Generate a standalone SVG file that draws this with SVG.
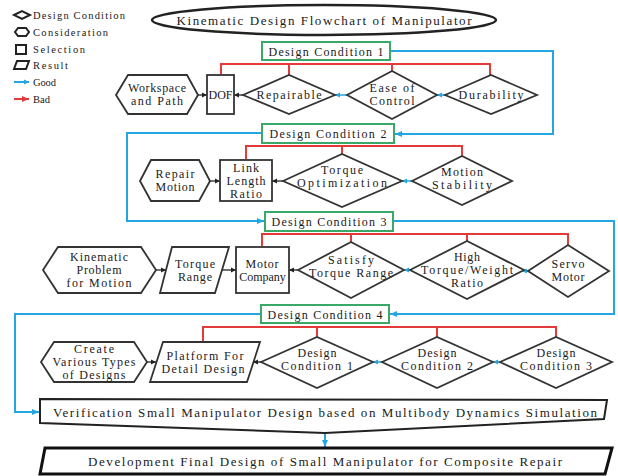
<svg xmlns="http://www.w3.org/2000/svg" width="618" height="476" viewBox="0 0 618 476">
<style>
.sh{fill:#fff;stroke:#333;stroke-width:1.8;stroke-linejoin:miter}
.dc{fill:#fff;stroke:#3aa866;stroke-width:2}
text{font-family:"Liberation Serif","DejaVu Serif",serif;fill:#1a1a1a}
.t{font-size:12px;text-anchor:middle}
.lg{font-size:10.5px}
.big{font-size:13px;text-anchor:middle}
.blue{fill:none;stroke:#24a6e0;stroke-width:2}
.red{fill:none;stroke:#e53a3a;stroke-width:2}
.blk{fill:none;stroke:#222;stroke-width:1.3}
.cy{fill:none;stroke:#24a6e0;stroke-width:1.5}
</style>
<defs>
<marker id="ab" markerUnits="userSpaceOnUse" markerWidth="8" markerHeight="8" refX="7" refY="4" orient="auto"><path d="M0,1 L7,4 L0,7 Z" fill="#24a6e0"/></marker>
<marker id="ar" markerUnits="userSpaceOnUse" markerWidth="8" markerHeight="8" refX="7" refY="4" orient="auto"><path d="M0,1 L7,4 L0,7 Z" fill="#e53a3a"/></marker>
<marker id="ak" markerUnits="userSpaceOnUse" markerWidth="6" markerHeight="6" refX="5" refY="3" orient="auto"><path d="M0,0.5 L5,3 L0,5.5 Z" fill="#222"/></marker>
<marker id="ac" markerUnits="userSpaceOnUse" markerWidth="6" markerHeight="6" refX="5" refY="3" orient="auto"><path d="M0,0.5 L5,3 L0,5.5 Z" fill="#24a6e0"/></marker>
</defs>

<g id="legend">
<polygon points="14,15 22,11 30,15 22,19" fill="#fff" stroke="#222" stroke-width="2"/>
<text class="lg" x="33" y="18.5" textLength="92" lengthAdjust="spacing">Design Condition</text>
<polygon points="15,32 18,28 26,28 29,32 26,36 18,36" fill="#fff" stroke="#222" stroke-width="2"/>
<text class="lg" x="33" y="35.5" textLength="75" lengthAdjust="spacing">Consideration</text>
<rect x="16" y="45" width="10" height="9" fill="#fff" stroke="#222" stroke-width="2"/>
<text class="lg" x="33" y="52.5" textLength="52" lengthAdjust="spacing">Selection</text>
<polygon points="17,61 29,61 26,69 14,69" fill="#fff" stroke="#222" stroke-width="2"/>
<text class="lg" x="33" y="68.5" textLength="35" lengthAdjust="spacing">Result</text>
<line x1="14" y1="82" x2="29" y2="82" class="blue" stroke-width="1.5" marker-end="url(#ac)"/>
<text class="lg" x="33" y="85.5" textLength="23" lengthAdjust="spacing">Good</text>
<line x1="14" y1="99" x2="29" y2="99" class="red" stroke-width="1.5" marker-end="url(#ar)"/>
<text class="lg" x="33" y="102.5" textLength="17" lengthAdjust="spacing">Bad</text>
</g>

<g id="title">
<ellipse cx="324" cy="20" rx="172" ry="15" fill="#fff" stroke="#222" stroke-width="2.5"/>
<text class="big" x="324" y="24.5" textLength="295" lengthAdjust="spacing">Kinematic Design Flowchart of Manipulator</text>
</g>

<g id="connectors">
<polyline class="blue" points="390,51 553,51 553,134 395,134" marker-end="url(#ab)"/>
<polyline class="blue" points="262,133 127,133 127,221 264,221" marker-end="url(#ab)"/>
<polyline class="blue" points="393,221 614,221 614,314 390,314" marker-end="url(#ab)"/>
<polyline class="blue" points="261,314 15,314 15,412 39,412" marker-end="url(#ab)"/>
<line class="blue" x1="325" y1="433" x2="325" y2="447" marker-end="url(#ab)"/>
<polyline class="red" points="221,74 221,64 490,64 490,75" marker-start="url(#ar)"/>
<line class="red" x1="289" y1="64" x2="289" y2="75"/>
<line class="red" x1="392" y1="64" x2="392" y2="71"/>
<polyline class="red" points="246,159 246,146 462,146 462,156" marker-start="url(#ar)"/>
<line class="red" x1="342" y1="146" x2="342" y2="154"/>
<polyline class="red" points="262,246 262,234 568,234 568,245" marker-start="url(#ar)"/>
<line class="red" x1="351" y1="234" x2="351" y2="242"/>
<line class="red" x1="467" y1="234" x2="467" y2="241"/>
<polyline class="red" points="203,341 203,327 556,327 556,337" marker-start="url(#ar)"/>
<line class="red" x1="317" y1="327" x2="317" y2="337"/>
<line class="red" x1="437" y1="327" x2="437" y2="337"/>
<line class="blk" x1="198" y1="95" x2="207" y2="95" marker-end="url(#ak)"/>
<line class="blk" x1="244" y1="95" x2="234" y2="95" marker-end="url(#ak)"/>
<line class="cy" x1="347" y1="95" x2="335" y2="95" marker-end="url(#ac)"/>
<line class="cy" x1="445" y1="95" x2="437" y2="95" marker-end="url(#ac)"/>
<line class="blk" x1="210" y1="181" x2="220" y2="181" marker-end="url(#ak)"/>
<line class="blk" x1="283" y1="181" x2="272" y2="181" marker-end="url(#ak)"/>
<line class="cy" x1="412" y1="181" x2="402" y2="181" marker-end="url(#ac)"/>
<line class="blk" x1="156" y1="270" x2="166" y2="270" marker-end="url(#ak)"/>
<line class="blk" x1="222" y1="270" x2="236" y2="270" marker-end="url(#ak)"/>
<line class="blk" x1="298" y1="270" x2="289" y2="270" marker-end="url(#ak)"/>
<line class="cy" x1="410" y1="270" x2="404" y2="270" marker-end="url(#ac)"/>
<line class="cy" x1="528" y1="271" x2="522" y2="271" marker-end="url(#ac)"/>
<line class="blk" x1="147" y1="362" x2="156" y2="362" marker-end="url(#ak)"/>
<line class="blk" x1="261" y1="362" x2="253" y2="362" marker-end="url(#ak)"/>
<line class="cy" x1="382" y1="362" x2="373" y2="362" marker-end="url(#ac)"/>
<line class="cy" x1="500" y1="362" x2="493" y2="362" marker-end="url(#ac)"/>
</g>

<g id="dc1"><rect class="dc" x="262" y="42" width="128" height="18"/><text class="t" x="326" y="55.5" textLength="115" lengthAdjust="spacing">Design Condition 1</text></g>
<g id="workspace"><polygon class="sh" points="116,95 128,75 187,75 198,95 187,114 128,114"/><text class="t" x="157" y="92" textLength="58" lengthAdjust="spacing">Workspace</text><text class="t" x="157" y="105" textLength="52" lengthAdjust="spacing">and Path</text></g>
<g id="dof"><rect class="sh" x="207" y="75" width="27" height="39"/><text class="t" x="220.5" y="99" font-size="11">DOF</text></g>
<g id="repairable"><polygon class="sh" points="243,95 289,75 335,95 289,114"/><text class="t" x="289" y="99" textLength="65" lengthAdjust="spacing">Repairable</text></g>
<g id="ease"><polygon class="sh" points="347,95 392,71 437,95 392,119"/><text class="t" x="392" y="92" textLength="45" lengthAdjust="spacing">Ease of</text><text class="t" x="392" y="105" textLength="45" lengthAdjust="spacing">Control</text></g>
<g id="durability"><polygon class="sh" points="445,95 491,75 537,95 491,114"/><text class="t" x="491" y="99" textLength="65" lengthAdjust="spacing">Durability</text></g>

<g id="dc2"><rect class="dc" x="262" y="124" width="132" height="19"/><text class="t" x="328" y="138" textLength="117" lengthAdjust="spacing">Design Condition 2</text></g>
<g id="repair-motion"><polygon class="sh" points="140,181 151,160 199,160 210,181 199,201 151,201"/><text class="t" x="175" y="178" textLength="39" lengthAdjust="spacing">Repair</text><text class="t" x="175" y="191" textLength="39" lengthAdjust="spacing">Motion</text></g>
<g id="link"><rect class="sh" x="220" y="160" width="52" height="41"/><text class="t" x="246" y="172" textLength="26" lengthAdjust="spacing">Link</text><text class="t" x="246" y="185" textLength="39" lengthAdjust="spacing">Length</text><text class="t" x="246" y="198" textLength="32" lengthAdjust="spacing">Ratio</text></g>
<g id="torque-opt"><polygon class="sh" points="283,181 342,154 402,181 342,207"/><text class="t" x="342" y="174" textLength="42" lengthAdjust="spacing">Torque</text><text class="t" x="342" y="187" textLength="90" lengthAdjust="spacing">Optimization</text></g>
<g id="motion-stab"><polygon class="sh" points="412,181 462,156 512,181 462,205"/><text class="t" x="462" y="176" textLength="42" lengthAdjust="spacing">Motion</text><text class="t" x="462" y="189" textLength="60" lengthAdjust="spacing">Stability</text></g>

<g id="dc3"><rect class="dc" x="265" y="212" width="128" height="19"/><text class="t" x="329" y="226" textLength="115" lengthAdjust="spacing">Design Condition 3</text></g>
<g id="kinematic"><polygon class="sh" points="43,270 58,247 141,247 156,270 141,293 58,293"/><text class="t" x="99" y="261" textLength="58" lengthAdjust="spacing">Kinematic</text><text class="t" x="99" y="274" textLength="45" lengthAdjust="spacing">Problem</text><text class="t" x="99" y="287" textLength="65" lengthAdjust="spacing">for Motion</text></g>
<g id="torque-range"><polygon class="sh" points="172,247 229,247 215,293 160,293"/><text class="t" x="195" y="268" textLength="40" lengthAdjust="spacing">Torque</text><text class="t" x="195" y="281" textLength="34" lengthAdjust="spacing">Range</text></g>
<g id="motor-company"><rect class="sh" x="236" y="247" width="53" height="46"/><text class="t" x="262" y="268" textLength="33" lengthAdjust="spacing">Motor</text><text class="t" x="262.5" y="281" font-size="11.5">Company</text></g>
<g id="satisfy"><polygon class="sh" points="298,270 351,242 404,270 351,298"/><text class="t" x="351" y="264" textLength="46" lengthAdjust="spacing">Satisfy</text><text class="t" x="351" y="277" textLength="84" lengthAdjust="spacing">Torque Range</text></g>
<g id="high-torque"><polygon class="sh" points="410,270 467,241 524,270 467,299"/><text class="t" x="467" y="261" textLength="26" lengthAdjust="spacing">High</text><text class="t" x="467" y="274" textLength="92" lengthAdjust="spacing">Torque/Weight</text><text class="t" x="467" y="287" textLength="32" lengthAdjust="spacing">Ratio</text></g>
<g id="servo"><polygon class="sh" points="528,271 568,245 609,271 568,297"/><text class="t" x="568" y="268" textLength="33" lengthAdjust="spacing">Servo</text><text class="t" x="568" y="281" textLength="33" lengthAdjust="spacing">Motor</text></g>

<g id="dc4"><rect class="dc" x="261" y="305" width="128" height="18"/><text class="t" x="325" y="318.5" textLength="115" lengthAdjust="spacing">Design Condition 4</text></g>
<g id="create"><polygon class="sh" points="41,362 54,342 134,342 147,362 134,382 54,382"/><text class="t" x="94" y="353" textLength="40" lengthAdjust="spacing">Create</text><text class="t" x="94" y="366" textLength="83" lengthAdjust="spacing">Various Types</text><text class="t" x="94" y="379" textLength="63" lengthAdjust="spacing">of Designs</text></g>
<g id="platform"><polygon class="sh" points="163,342 260,342 247,382 150,382"/><text class="t" x="205" y="360" textLength="77" lengthAdjust="spacing">Platform For</text><text class="t" x="203" y="373" textLength="83" lengthAdjust="spacing">Detail Design</text></g>
<g id="dcd1"><polygon class="sh" points="261,362 317,337 373,362 317,388"/><text class="t" x="317" y="357" textLength="39" lengthAdjust="spacing">Design</text><text class="t" x="317" y="370" textLength="72" lengthAdjust="spacing">Condition 1</text></g>
<g id="dcd2"><polygon class="sh" points="382,362 437,337 493,362 437,388"/><text class="t" x="437" y="357" textLength="39" lengthAdjust="spacing">Design</text><text class="t" x="437" y="370" textLength="72" lengthAdjust="spacing">Condition 2</text></g>
<g id="dcd3"><polygon class="sh" points="500,362 556,337 612,362 556,388"/><text class="t" x="556" y="357" textLength="39" lengthAdjust="spacing">Design</text><text class="t" x="556" y="370" textLength="72" lengthAdjust="spacing">Condition 3</text></g>

<g id="verification"><path d="M40,399 L607,400 L604,419 L325,433 L40,423 Z" fill="#fff" stroke="#222" stroke-width="2"/><text class="big" x="325" y="417" textLength="544" lengthAdjust="spacing">Verification Small Manipulator Design based on Multibody Dynamics Simulation</text></g>
<g id="final"><path d="M45,448 L612,448 L605,474 L40,474 Z" fill="#fff" stroke="#111" stroke-width="3"/><text class="big" x="325" y="466" textLength="474" lengthAdjust="spacing">Development Final Design of Small Manipulator for Composite Repair</text></g>
</svg>
